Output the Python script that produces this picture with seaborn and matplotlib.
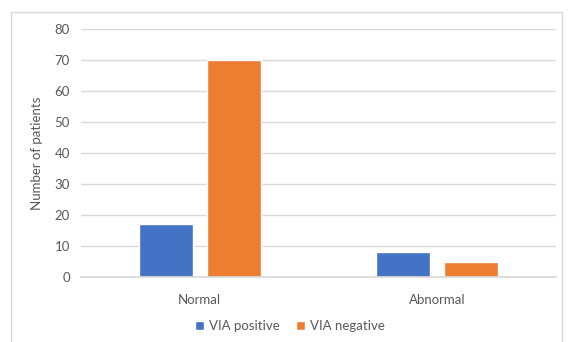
import matplotlib
matplotlib.use("Agg")
import matplotlib.pyplot as plt
from matplotlib.patches import Rectangle
import seaborn as sns
import pandas as pd

categories = ["Normal", "Abnormal"]
series = ["VIA positive", "VIA negative"]
via_positive = [17, 8]
via_negative = [70, 5]
colors = ["#4472C4", "#ED7D31"]

df = pd.DataFrame({
    "category": categories * 2,
    "series": [series[0]] * 2 + [series[1]] * 2,
    "value": via_positive + via_negative,
})

sns.set_theme(style="white")
plt.rcParams['font.family'] = ['Lato', 'DejaVu Sans']

fig = plt.figure(figsize=(5.68, 3.42), dpi=100)
ax = fig.add_axes([81/568, 1-277/342, (556-81)/568, (277-29)/342])

sns.barplot(data=df, x="category", y="value", hue="series", order=categories,
            hue_order=series, palette=colors, width=0.573, gap=0.206,
            saturation=1, ax=ax, legend=True)

ax.set_ylim(0, 80)
ax.set_yticks(range(0, 81, 10))
ax.yaxis.grid(True, color="#D9D9D9", linewidth=1)
ax.set_axisbelow(True)
for s in ["top", "right", "left"]:
    ax.spines[s].set_visible(False)
ax.spines["bottom"].set_color("#D9D9D9")
ax.tick_params(axis="both", length=0, labelsize=9.5, colors="#595959", pad=8)
ax.tick_params(axis="x", pad=12)
ax.set_xlabel("")
ax.set_ylabel("Number of patients", fontsize=9.5, color="#595959", labelpad=8)

leg = ax.legend(loc="center", bbox_to_anchor=(290/568, 1-326/342),
                bbox_transform=fig.transFigure, ncol=2, frameon=False,
                fontsize=9.5, handlelength=0.7, handleheight=0.7,
                handletextpad=0.4, columnspacing=1.2)
for t in leg.get_texts():
    t.set_color("#595959")

fig.patches.append(Rectangle((11/568, -0.05), (562-11)/568, 1-12/342+0.05,
                             transform=fig.transFigure, fill=False,
                             edgecolor="#D9D9D9", linewidth=1))

fig.savefig("out.png", dpi=100)
